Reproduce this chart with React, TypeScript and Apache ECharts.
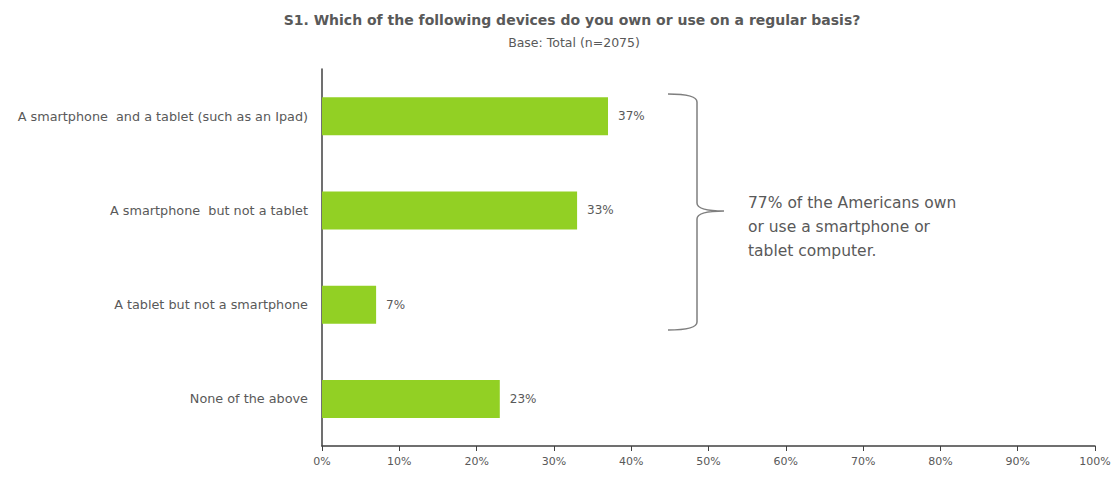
import React, { useEffect, useRef } from "react";
import * as echarts from "echarts";

const categories = [
  "A smartphone  and a tablet (such as an Ipad)",
  "A smartphone  but not a tablet",
  "A tablet but not a smartphone",
  "None of the above",
];
const values = [37, 33, 7, 23];
const titleText = "S1. Which of the following devices do you own or use on a regular basis?";
const subtitleText = "Base: Total (n=2075)";
const noteLines = [
  "77% of the Americans own",
  "or use a smartphone or",
  "tablet computer.",
];

const GREY = "#595959";
const FONT = "'DejaVu Sans', 'Open Sans', sans-serif";

const braceD =
  "M668 94 Q697 94 697 102 L697 203 Q697 211 724 211 Q697 211 697 219 L697 322 Q697 330 668 330";

export default function App() {
  const ref = useRef<HTMLDivElement>(null);
  useEffect(() => {
    document.body.style.margin = "0";
    if (!ref.current) return;
    echarts.graphic.registerShape("brace", echarts.graphic.extendPath(braceD, {}));
    const chart = echarts.init(ref.current, null, { renderer: "svg" });
    chart.setOption({
      animation: false,
      textStyle: { fontFamily: FONT },
      title: [
        {
          text: titleText,
          left: 567,
          textAlign: "center",
          top: 8,
          textStyle: { fontSize: 14, fontWeight: "bold", color: GREY, fontFamily: FONT },
        },
        {
          text: subtitleText,
          left: 569,
          textAlign: "center",
          top: 31,
          textStyle: { fontSize: 12.5, fontWeight: "normal", color: GREY, fontFamily: FONT },
        },
      ],
      grid: { left: 322, right: 22, top: 69, bottom: 31, containLabel: false },
      xAxis: {
        type: "value",
        min: 0,
        max: 100,
        interval: 10,
        splitLine: { show: false },
        axisLine: { show: true, lineStyle: { color: "#404040", width: 1.5 } },
        axisTick: { show: true, length: 5, lineStyle: { color: "#404040" } },
        axisLabel: { formatter: "{value}%", color: GREY, fontSize: 11, margin: 10, fontFamily: FONT },
      },
      yAxis: {
        type: "category",
        inverse: true,
        data: categories,
        axisLine: { show: true, lineStyle: { color: "#404040", width: 1.5 } },
        axisTick: { show: false },
        axisLabel: { color: GREY, fontSize: 12.8, margin: 14, fontFamily: FONT },
      },
      series: [
        {
          type: "bar",
          data: values,
          barWidth: 38,
          itemStyle: { color: "#92d024" },
          label: {
            show: true,
            position: "right",
            distance: 10,
            formatter: "{c}%",
            color: GREY,
            fontSize: 12,
            fontFamily: FONT,
          },
        },
      ],
      graphic: [
        {
          type: "brace",
          x: 0,
          y: 0,
          shape: {},
          style: { fill: "none", stroke: "#7f7f7f", lineWidth: 1.5 },
        },
        {
          type: "text",
          left: 748,
          top: 191,
          style: {
            text: noteLines.join("\n"),
            fill: GREY,
            font: `15.5px ${FONT}`,
            lineHeight: 24,
          },
        },
      ],
    });
    return () => chart.dispose();
  }, []);
  return <div ref={ref} style={{ width: 1117, height: 477 }} />;
}
